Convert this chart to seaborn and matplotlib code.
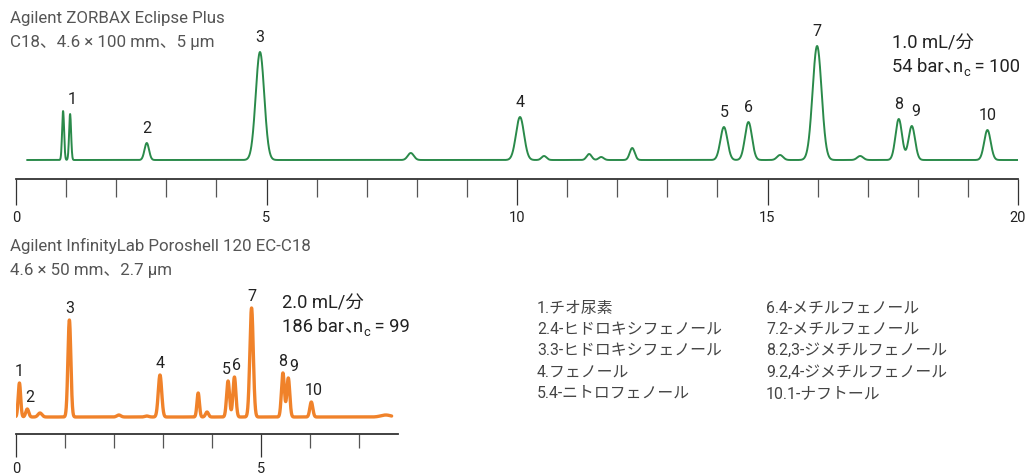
import numpy as np
import pandas as pd
import matplotlib
matplotlib.use("Agg")
import matplotlib.pyplot as plt
import seaborn as sns

# --- data (retention time in min, relative height) ---
zorbax_rt = [0.94, 1.08, 2.61, 4.87, 7.88, 10.06, 10.54, 11.44, 11.68, 12.30,
             14.13, 14.62, 15.25, 15.99, 16.85, 17.62, 17.88, 19.39]
zorbax_height = [49, 46, 17, 108, 7, 43, 4, 6, 3, 12,
                 33, 38, 5, 114, 4, 41, 34, 30]
zorbax_width = [0.02, 0.02, 0.045, 0.085, 0.06, 0.08, 0.05, 0.05, 0.05, 0.05,
                0.07, 0.07, 0.06, 0.09, 0.06, 0.065, 0.065, 0.065]
zorbax_labels = ["", "1", "2", "3", "", "4", "", "", "", "",
                 "5", "6", "", "7", "", "8", "9", "10"]

poroshell_rt = [0.07, 0.23, 0.49, 1.09, 2.10, 2.67, 2.94, 3.72, 3.90,
                4.33, 4.46, 4.81, 5.45, 5.56, 6.03, 7.55]
poroshell_height = [34, 8, 4, 97, 2, 1, 42, 24, 5,
                    36, 40, 109, 44, 39, 15, 2]
poroshell_width = [0.025, 0.03, 0.04, 0.03, 0.04, 0.04, 0.035, 0.025, 0.03,
                   0.03, 0.03, 0.035, 0.03, 0.03, 0.03, 0.1]
poroshell_labels = ["1", "2", "", "3", "", "", "4", "", "",
                    "5", "6", "7", "8", "9", "10", ""]

compounds = ["1.チオ尿素", "2.4-ヒドロキシフェノール", "3.3-ヒドロキシフェノール",
             "4.フェノール", "5.4-ニトロフェノール", "6.4-メチルフェノール",
             "7.2-メチルフェノール", "8.2,3-ジメチルフェノール",
             "9.2,4-ジメチルフェノール", "10.1-ナフトール"]

# label offsets (min) relative to each peak apex
zorbax_label_dx = {"1": 0.04, "9": 0.08}
poroshell_label_dx = {"2": 0.05, "5": -0.03, "6": 0.05, "9": 0.1, "10": 0.05}

W, H = 1030, 474
sns.set_theme(style="white")
plt.rcParams["font.family"] = ["Roboto", "Noto Sans CJK JP", "DejaVu Sans"]

fig = plt.figure(figsize=(W / 100, H / 100), dpi=100)


def px_axes(left, right, top, bottom):
    return fig.add_axes([left / W, 1 - bottom / H, (right - left) / W, (bottom - top) / H])


def trace(rt, height, width, t0, t1):
    t = np.linspace(t0, t1, 6000)
    y = np.zeros_like(t)
    for r, h, w in zip(rt, height, width):
        y += h * np.exp(-0.5 * ((t - r) / w) ** 2)
    return pd.DataFrame({"time": t, "signal": y})


def style_ruler(ax, major, minor, major_len, minor_len):
    for s in ["left", "right", "top"]:
        ax.spines[s].set_visible(False)
    ax.spines["bottom"].set_color("#333333")
    ax.spines["bottom"].set_linewidth(1.3)
    ax.set_yticks([])
    ax.set_xticks(major)
    ax.set_xticks(minor, minor=True)
    ax.tick_params(axis="x", which="major", direction="out", length=major_len,
                   width=0.9, color="#333333", labelsize=10.5, labelcolor="#222222", pad=4)
    ax.tick_params(axis="x", which="minor", direction="out", length=minor_len,
                   width=0.9, color="#555555")
    ax.tick_params(axis="x", which="both", bottom=True)
    ax.set_xlabel("")
    ax.set_ylabel("")
    ax.patch.set_alpha(0)


# ---------------- top: ZORBAX Eclipse Plus ----------------
ax1 = px_axes(16, 1018, 20, 179)
df1 = trace(zorbax_rt, zorbax_height, zorbax_width, 0.22, 20.0)
sns.lineplot(data=df1, x="time", y="signal", ax=ax1, color="#2a8a4a", linewidth=1.4)
ax1.set_xlim(0, 20)
ax1.set_ylim(-19, 140)
style_ruler(ax1, range(0, 21, 5), range(0, 21), 18.7, 13)
for r, h, lab in zip(zorbax_rt, zorbax_height, zorbax_labels):
    if lab:
        ax1.text(r + zorbax_label_dx.get(lab, 0), h + 7, lab, ha="center", va="bottom",
                 fontsize=11.5, color="#222222")

# ---------------- bottom: Poroshell 120 ----------------
ax2 = px_axes(16, 398, 290, 434)
df2 = trace(poroshell_rt, poroshell_height, poroshell_width, 0.0, 7.67)
sns.lineplot(data=df2, x="time", y="signal", ax=ax2, color="#f0822a", linewidth=2.4)
ax2.set_xlim(0, 7.8)
ax2.set_ylim(-17, 127)
style_ruler(ax2, [0, 5], range(0, 8), 16.5, 10)
for r, h, lab in zip(poroshell_rt, poroshell_height, poroshell_labels):
    if lab:
        ax2.text(r + poroshell_label_dx.get(lab, 0), h + 4, lab, ha="center", va="bottom",
                 fontsize=11.5, color="#222222")

# ---------------- text ----------------
def ftext(x, y, s, size, color, **kw):
    return fig.text(x / W, 1 - y / H, s, fontsize=size, color=color,
                    va="center", ha="left", **kw)


def right_edge(t):
    fig.canvas.draw()
    return t.get_window_extent(fig.canvas.get_renderer()).x1


def nc_text(x, y, pressure, nc, size, color):
    # "<p> bar、n_c = <nc>" drawn piece by piece: tight CJK comma, subscript c
    em = size * 100 / 72
    t = ftext(x, y, f"{pressure} bar", size, color)
    xc = right_edge(t) - 0.5
    ftext(xc, y, "、", size, color)
    t = ftext(xc + 0.5 * em, y, "n", size, color)
    t = ftext(right_edge(t) + 0.5, y + 5, "c", size * 0.7, color)
    ftext(right_edge(t), y, f" = {nc}", size, color)


ftext(10, 19, "Agilent ZORBAX Eclipse Plus", 12.2, "#555555")
ftext(10, 43, "C18、4.6 × 100 mm、5 µm", 12.2, "#555555")
ftext(892, 44, "1.0 mL/分", 13.2, "#222222")
nc_text(892, 67, 54, 100, 13.2, "#222222")

ftext(10, 246, "Agilent InfinityLab Poroshell 120 EC-C18", 12.2, "#555555")
ftext(10, 270, "4.6 × 50 mm、2.7 µm", 12.2, "#555555")
ftext(282, 304, "2.0 mL/分", 13.2, "#222222")
nc_text(282, 327, 186, 99, 13.2, "#222222")

for i, name in enumerate(compounds):
    col, row = divmod(i, 5)
    ftext(537 + col * 229, 308 + row * 21.3, name, 11.4, "#444444")

fig.savefig("out.png", dpi=100)
